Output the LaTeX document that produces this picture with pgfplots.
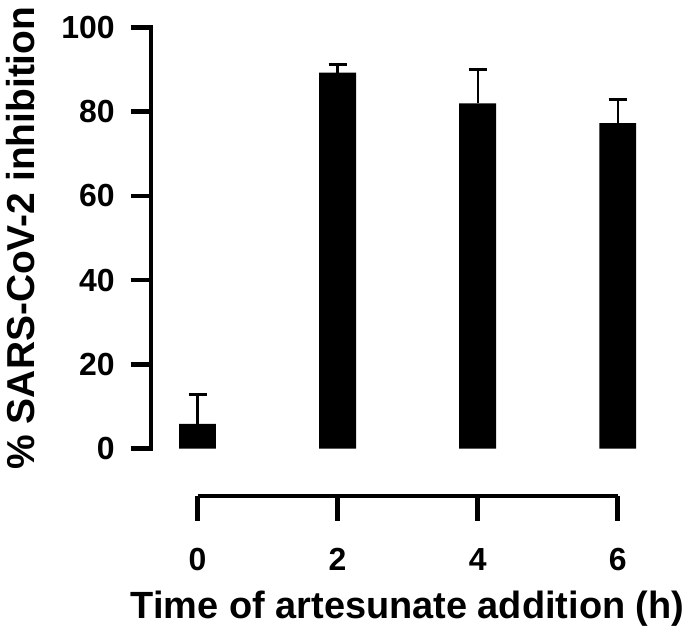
\documentclass[border=0pt]{standalone}
\usepackage{pgfplots}
\pgfplotsset{compat=1.18}
\usepackage{fontspec}
\setmainfont{Liberation Sans}
\begin{document}
\begin{tikzpicture}
\begin{axis}[
  scale only axis,
  width=251.3pt, height=211pt,
  at={(0,0)}, anchor=south west,
  xmin=-0.663, xmax=6.5,
  ymin=0, ymax=100,
  axis x line=none,
  axis y line*=left,
  axis line style={line width=2.25pt, line cap=rect},
  ytick={0,20,40,60,80,100},
  tick align=outside,
  major tick length=10.25pt,
  tick style={line width=2.25pt, black},
  /pgf/number format/assume math mode=true,
  yticklabel style={font=\fontsize{16}{16}\selectfont\bfseries, xshift=-4.5pt},
  ylabel={\% SARS-CoV-2 inhibition},
  ylabel style={font=\fontsize{19.5}{19.5}\selectfont\bfseries, at={(axis description cs:-0.2169,0.5)}, anchor=south},
  clip=false,
]
\addplot[ybar, bar width=18.5pt, bar shift=0pt, fill=black, draw=none,
  error bars/.cd, y dir=plus, y explicit,
  error bar style={line width=1.15pt, black},
  error mark options={rotate=90, mark size=4.5pt, line width=1.5pt, black}]
  coordinates {
  (0,5.9) +- (0,6.9)
  (2,89.3) +- (0,1.9)
  (4,82.0) +- (0,8.0)
  (6,77.3) +- (0,5.6)
};
\end{axis}
\begin{axis}[
  scale only axis,
  width=210.5pt, height=10pt,
  at={(23.25pt,-23.75pt)}, anchor=south west,
  xmin=0, xmax=6,
  ymin=0, ymax=1,
  axis y line=none,
  axis x line*=bottom,
  axis line style={line width=2.25pt},
  xtick={0,2,4,6},
  tick align=outside,
  major tick length=12.25pt,
  tick style={line width=2.25pt, black},
  /pgf/number format/assume math mode=true,
  xticklabel style={font=\fontsize{16}{16}\selectfont\bfseries, yshift=-10.5pt},
  xlabel={Time of artesunate addition (h)},
  xlabel style={font=\fontsize{19}{19}\selectfont\bfseries, at={(rel axis cs:0.5,0)}, anchor=base, yshift=-61.25pt},
  clip=false,
]
\addplot[draw=none] coordinates {(0,0) (6,0)};
\end{axis}
\path (-75.5pt,224pt) rectangle (270pt,-87pt);
\end{tikzpicture}
\end{document}
